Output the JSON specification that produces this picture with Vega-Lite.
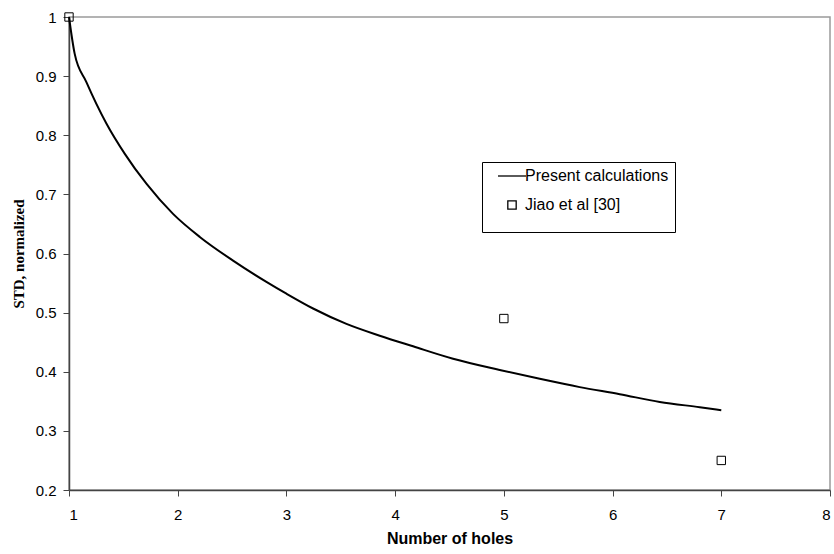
{
  "$schema": "https://vega.github.io/schema/vega-lite/v6.json",
  "autosize": {"type": "none"},
  "padding": {"left": 69, "top": 17, "right": 4, "bottom": 64},
  "width": 761,
  "height": 473,
  "background": "white",
  "config": {
    "view": {"stroke": "#9a9a9a", "strokeWidth": 1.5},
    "axis": {
      "grid": false,
      "domainColor": "#444444",
      "domainWidth": 1.5,
      "tickColor": "#444444",
      "tickSize": 6,
      "labelFont": "Liberation Sans",
      "labelFontSize": 15,
      "labelColor": "#000000",
      "titleColor": "#000000"
    }
  },
  "datasets": {
    "curve": [
      {"holes": 1.0, "std": 1.0},
      {"holes": 1.052, "std": 0.938},
      {"holes": 1.16, "std": 0.89},
      {"holes": 1.344, "std": 0.82},
      {"holes": 1.512, "std": 0.769},
      {"holes": 1.712, "std": 0.718},
      {"holes": 1.957, "std": 0.667},
      {"holes": 2.203, "std": 0.628},
      {"holes": 2.509, "std": 0.588},
      {"holes": 2.816, "std": 0.552},
      {"holes": 3.0, "std": 0.532},
      {"holes": 3.245, "std": 0.507},
      {"holes": 3.552, "std": 0.481},
      {"holes": 3.858, "std": 0.461},
      {"holes": 4.165, "std": 0.443},
      {"holes": 4.533, "std": 0.422},
      {"holes": 4.962, "std": 0.403},
      {"holes": 5.33, "std": 0.388},
      {"holes": 5.698, "std": 0.374},
      {"holes": 6.066, "std": 0.362},
      {"holes": 6.434, "std": 0.349},
      {"holes": 6.802, "std": 0.34},
      {"holes": 7.0, "std": 0.335}
    ],
    "jiao": [
      {"holes": 1, "std": 1.0, "series": "Jiao et al  [30]"},
      {"holes": 5, "std": 0.49, "series": "Jiao et al  [30]"},
      {"holes": 7, "std": 0.25, "series": "Jiao et al  [30]"}
    ]
  },
  "layer": [
    {
      "data": {"name": "curve"},
      "mark": {"type": "line", "color": "#000000", "strokeWidth": 2, "interpolate": "monotone"},
      "encoding": {
        "x": {
          "field": "holes", "type": "quantitative",
          "scale": {"domain": [1, 8], "nice": false, "zero": false},
          "axis": {
            "values": [1, 2, 3, 4, 5, 6, 7, 8],
            "format": "d",
            "labelPadding": 11,
            "title": "Number of holes",
            "titleFont": "Liberation Sans",
            "titleFontSize": 16,
            "titleFontWeight": "bold",
            "titlePadding": 8
          }
        },
        "y": {
          "field": "std", "type": "quantitative",
          "scale": {"domain": [0.2, 1], "nice": false, "zero": false},
          "axis": {
            "values": [0.2, 0.3, 0.4, 0.5, 0.6, 0.7, 0.8, 0.9, 1],
            "format": ".1~f",
            "labelPadding": 7,
            "title": "STD, normalized",
            "titleFont": "Liberation Serif",
            "titleFontSize": 15,
            "titleFontWeight": "bold",
            "titlePadding": 9
          }
        }
      }
    },
    {
      "data": {"name": "jiao"},
      "mark": {"type": "point", "filled": false, "color": "#000000", "strokeWidth": 1, "opacity": 1, "size": 70},
      "encoding": {
        "x": {"field": "holes", "type": "quantitative"},
        "y": {"field": "std", "type": "quantitative"},
        "shape": {
          "field": "series", "type": "nominal",
          "scale": {"domain": ["Present calculations", "Jiao et al  [30]"], "range": ["M-3.35,0H3.35", "square"]},
          "legend": {
            "title": "\u00a0",
            "titleOrient": "bottom",
            "titleFontSize": 10,
            "titlePadding": 3,
            "titleAnchor": "start",
            "orient": "none",
            "legendX": 413,
            "legendY": 145,
            "strokeColor": "#000000",
            "fillColor": "#ffffff",
            "padding": 6,
            "symbolOffset": 16,
            "symbolSize": 70,
            "rowPadding": 13,
            "labelFont": "Liberation Sans",
            "labelFontSize": 16,
            "labelColor": "#000000",
            "labelOffset": 5,
            "labelLimit": 300,
            "symbolStrokeColor": "#000000",
            "symbolStrokeWidth": 1.3,
            "symbolFillColor": "transparent"
          }
        }
      }
    }
  ]
}
